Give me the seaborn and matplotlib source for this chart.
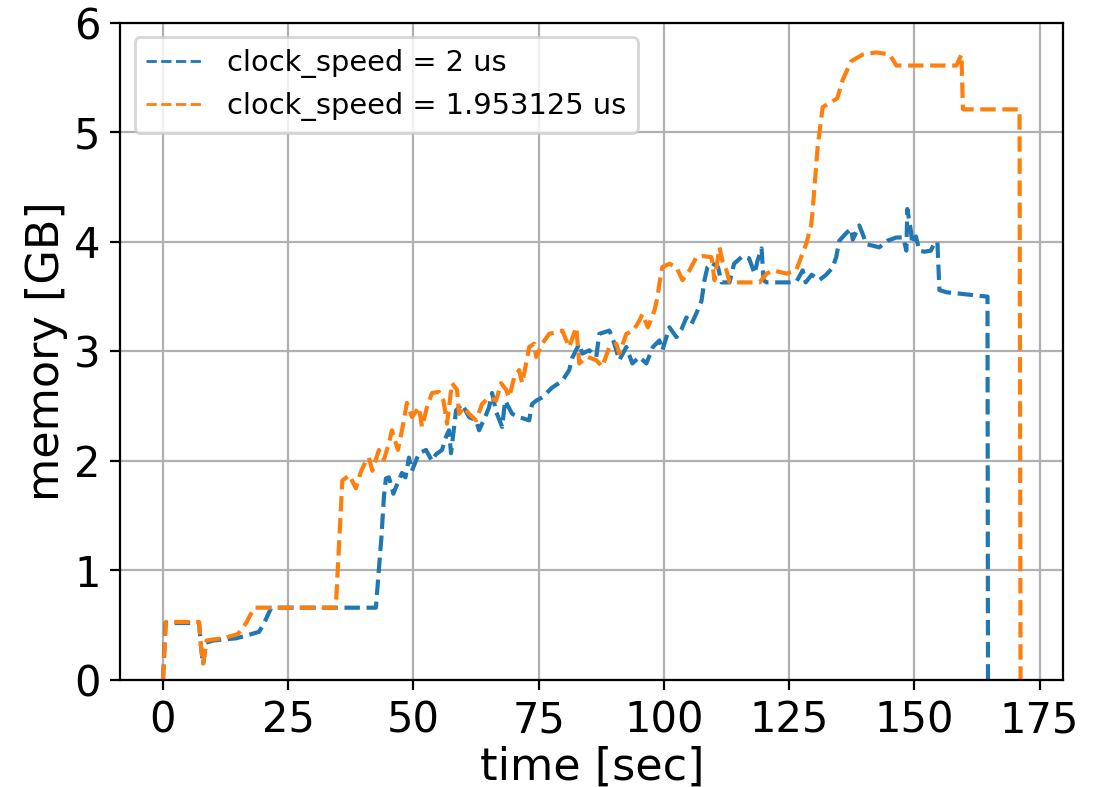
import pandas as pd
import matplotlib
matplotlib.use('Agg')
import matplotlib.pyplot as plt
from matplotlib.ticker import MultipleLocator
import seaborn as sns

# memory trace, clock_speed = 2 us
time_2us = [0, 0.5, 7.2, 7.6, 8.0, 8.6, 10, 12, 14.6, 17,
            19.2, 20.5, 21.6, 42.5, 43.6, 44.1, 44.5, 45.1, 46.0, 46.5,
            47.7, 48.4, 49.1, 49.7, 51.1, 52.5, 53.7, 54.5, 55.7, 56.5,
            57.1, 57.5, 58.5, 59.7, 61.1, 62.5, 63.1, 64.3, 65.1, 65.7,
            66.5, 67.7, 68.3, 69.7, 71.1, 73.1, 73.7, 74.5, 75.7, 77.7,
            79.7, 81.1, 81.7, 83.1, 83.7, 85.1, 86.5, 87.1, 89.1, 89.7,
            91.1, 92.5, 93.7, 95.1, 96.5, 97.8, 99.1, 99.7, 101.1, 102.5,
            103.5, 104.5, 105.5, 106.5, 107.5, 108.1, 108.7, 109.5, 110.8, 111.5,
            113.1, 114.0, 115.7, 117.0, 118.1, 118.7, 119.5, 119.9, 120.5, 125.0,
            126.5, 127.7, 128.3, 129.5, 131.0, 132.4, 133.6, 134.4, 135.0, 136.4,
            137.4, 137.7, 139.0, 139.7, 140.4, 143.0, 144.6, 146.4, 147.8, 148.4,
            148.6, 149.3, 149.6, 150.3, 151.0, 152.0, 153.3, 154.0, 154.6, 155.0,
            156.4, 164.6, 164.7]
mem_2us = [0, 0.52, 0.52, 0.30, 0.14, 0.34, 0.36, 0.37, 0.38, 0.41,
           0.44, 0.55, 0.66, 0.66, 1.30, 1.67, 1.84, 1.85, 1.70, 1.76,
           1.89, 1.85, 2.03, 1.91, 2.07, 2.10, 2.00, 2.06, 2.10, 2.22,
           2.28, 2.07, 2.46, 2.52, 2.40, 2.37, 2.28, 2.40, 2.49, 2.62,
           2.45, 2.31, 2.55, 2.43, 2.40, 2.37, 2.52, 2.55, 2.58, 2.67,
           2.73, 2.83, 2.94, 3.07, 2.98, 3.01, 2.95, 3.16, 3.19, 3.13,
           2.92, 3.04, 2.89, 2.95, 2.89, 3.04, 3.10, 3.01, 3.22, 3.13,
           3.20, 3.31, 3.25, 3.35, 3.46, 3.65, 3.77, 3.81, 3.77, 3.63,
           3.63, 3.80, 3.87, 3.85, 3.71, 3.83, 3.94, 3.65, 3.63, 3.63,
           3.64, 3.74, 3.63, 3.70, 3.65, 3.70, 3.76, 3.86, 4.01, 4.08,
           4.12, 4.02, 4.15, 4.07, 3.98, 3.95, 4.01, 4.04, 4.04, 3.92,
           4.30, 4.10, 3.98, 4.05, 3.92, 3.91, 3.92, 3.99, 4.00, 3.56,
           3.54, 3.50, 0]

# memory trace, clock_speed = 1.953125 us
time_195us = [0, 0.6, 7.2, 7.6, 8.0, 8.7, 10, 12, 15, 16.6,
              18.2, 34.5, 35.8, 37.2, 38.5, 39.5, 40.5, 41.1, 41.8, 43.1,
              44.1, 45.1, 45.7, 46.3, 46.9, 47.8, 48.7, 49.7, 51.1, 51.7,
              52.7, 53.7, 55.1, 56.0, 56.7, 57.7, 58.7, 59.1, 60.1, 61.1,
              62.5, 63.7, 65.1, 66.5, 67.5, 68.5, 69.1, 70.1, 71.1, 71.7,
              72.5, 73.1, 74.1, 74.5, 75.7, 77.1, 79.7, 81.1, 82.5, 83.1,
              84.7, 86.5, 87.7, 89.1, 90.5, 91.1, 92.5, 93.9, 95.1, 95.7,
              96.8, 98.1, 98.7, 99.1, 99.7, 101.1, 102.5, 103.7, 105.1, 106.5,
              107.8, 109.5, 110.1, 111.1, 111.8, 112.5, 113.1, 119.1, 120.5, 121.8,
              124.5, 126.4, 127.4, 128.4, 129.4, 129.7, 130.7, 131.7, 134.6, 135.7,
              137.4, 139.7, 142.4, 145.1, 146.4, 158.4, 159.4, 159.7, 171.0, 171.2]
mem_195us = [0, 0.53, 0.53, 0.30, 0.15, 0.36, 0.37, 0.38, 0.42, 0.52,
             0.66, 0.66, 1.82, 1.87, 1.75, 1.90, 2.00, 2.03, 1.91, 2.10,
             2.01, 2.16, 2.28, 2.19, 2.10, 2.30, 2.53, 2.40, 2.49, 2.31,
             2.49, 2.62, 2.63, 2.55, 2.34, 2.71, 2.65, 2.43, 2.49, 2.43,
             2.37, 2.52, 2.58, 2.55, 2.71, 2.65, 2.58, 2.76, 2.83, 2.71,
             2.89, 3.04, 3.07, 2.95, 3.07, 3.16, 3.19, 3.04, 3.22, 2.89,
             2.95, 2.92, 2.86, 3.04, 3.07, 2.98, 3.16, 3.19, 3.28, 3.34,
             3.22, 3.37, 3.49, 3.62, 3.77, 3.80, 3.77, 3.65, 3.74, 3.86,
             3.87, 3.86, 3.65, 3.95, 3.80, 3.74, 3.63, 3.63, 3.71, 3.74,
             3.71, 3.74, 3.86, 3.98, 4.15, 4.29, 4.87, 5.23, 5.31, 5.48,
             5.65, 5.71, 5.73, 5.71, 5.61, 5.61, 5.71, 5.21, 5.21, 0]

labels = ['clock_speed = 2 us', 'clock_speed = 1.953125 us']

df = pd.concat([
    pd.DataFrame({'time': time_2us, 'memory': mem_2us, 'run': labels[0]}),
    pd.DataFrame({'time': time_195us, 'memory': mem_195us, 'run': labels[1]}),
], ignore_index=True)

fig = plt.figure(figsize=(5.51, 3.935), dpi=200)
ax = fig.add_axes([0.109, 0.136, 0.856, 0.835])

sns.lineplot(data=df, x='time', y='memory', hue='run', hue_order=labels,
             palette=['#1f77b4', '#ff7f0e'], sort=False, estimator=None,
             linestyle='--', linewidth=1.5, ax=ax)

ax.set_ylim(0, 6)
ax.xaxis.set_major_locator(MultipleLocator(25))
ax.grid(True, color='#b0b0b0', linewidth=0.8)
ax.set_axisbelow(True)
ax.set_xlabel('time [sec]', fontsize=16, labelpad=1.5)
ax.set_ylabel('memory [GB]', fontsize=16, labelpad=2)
ax.tick_params(labelsize=15)

leg = ax.legend(loc='upper left', fontsize=10.4)
for h in leg.get_lines():
    h.set_linestyle('--')
    h.set_linewidth(1.0)

fig.savefig('out.png', dpi=200)
